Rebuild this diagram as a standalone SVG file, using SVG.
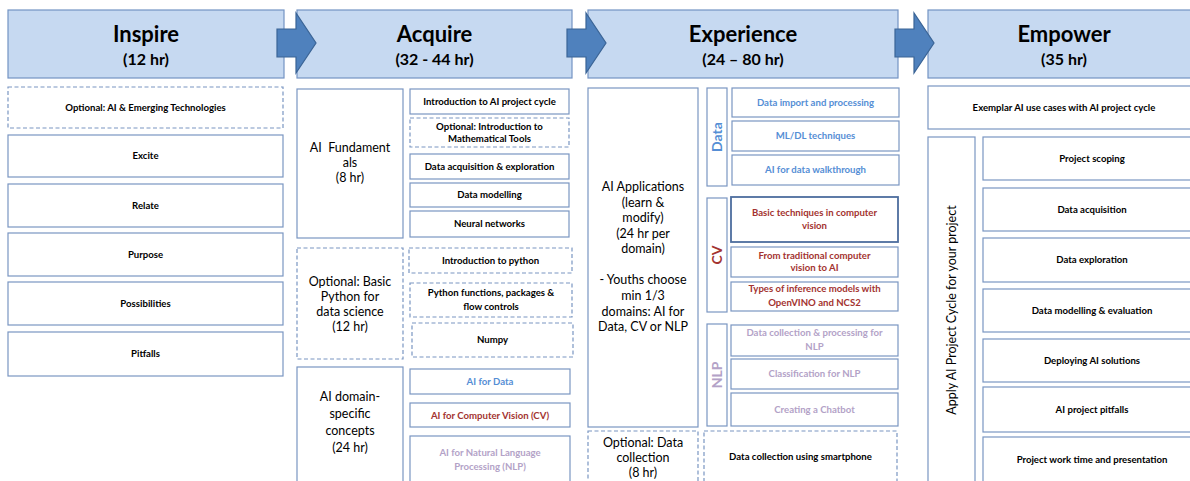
<svg xmlns="http://www.w3.org/2000/svg" width="1190" height="481" viewBox="0 0 1190 481">
<style>
.hdr{fill:#c6d9f1;stroke:#7393c4;stroke-width:1.2}
.arr{fill:#4f81bd;stroke:#3a6496;stroke-width:1.2}
.box{fill:#fff;stroke:#7a96c2;stroke-width:1.2}
.dash{fill:#fff;stroke:#7a96c2;stroke-width:1.2;stroke-dasharray:4 2.5}
.strong{fill:#fff;stroke:#4d6d9e;stroke-width:1.8}
text{font-family:Lato,"Open Sans",sans-serif;text-anchor:middle;fill:#000}
.t{font-size:9.6px;font-weight:bold}
.m{font-size:12.5px}
.h1{font-size:22px;font-weight:bold}
.h2{font-size:16px;font-weight:bold}
.blue{fill:#558ed5}
.red{fill:#a33330}
.pur{fill:#b3a2c7}
.lab{font-size:14px;font-weight:bold}
</style>

<!-- Headers -->
<g id="hdr-inspire"><rect class="hdr" x="8" y="10" width="276" height="68"/><text class="h1" x="146" y="42">Inspire</text><text class="h2" x="146" y="65">(12 hr)</text></g>
<g id="hdr-acquire"><rect class="hdr" x="297" y="10" width="275" height="68"/><text class="h1" x="434.5" y="42">Acquire</text><text class="h2" x="434.5" y="65">(32 - 44 hr)</text></g>
<g id="hdr-experience"><rect class="hdr" x="588" y="10" width="310" height="68"/><text class="h1" x="743" y="42">Experience</text><text class="h2" x="743" y="65">(24 – 80 hr)</text></g>
<g id="hdr-empower"><rect class="hdr" x="928" y="10" width="272" height="68"/><text class="h1" x="1064" y="42">Empower</text><text class="h2" x="1064" y="65">(35 hr)</text></g>

<!-- Connectors -->
<g id="connectors">
<polygon class="arr" points="277,29 296,29 296,13 316,43 296,73 296,57 277,57"/>
<polygon class="arr" points="567,29 586,29 586,13 606,43 586,73 586,57 567,57"/>
<polygon class="arr" points="895,29 914,29 914,13 934,43 914,73 914,57 895,57"/>
</g>

<!-- Inspire column -->
<g id="n-opt-emerging"><rect class="dash" x="8" y="87" width="275" height="41"/><text class="t" x="145.5" y="111">Optional: AI &amp; Emerging Technologies</text></g>
<g id="n-excite"><rect class="box" x="8" y="135" width="275" height="42"/><text class="t" x="145.5" y="159">Excite</text></g>
<g id="n-relate"><rect class="box" x="8" y="184" width="275" height="43"/><text class="t" x="145.5" y="208.5">Relate</text></g>
<g id="n-purpose"><rect class="box" x="8" y="233" width="275" height="43"/><text class="t" x="145.5" y="257.5">Purpose</text></g>
<g id="n-possibilities"><rect class="box" x="8" y="282" width="275" height="43"/><text class="t" x="145.5" y="306.5">Possibilities</text></g>
<g id="n-pitfalls"><rect class="box" x="8" y="332" width="275" height="44"/><text class="t" x="145.5" y="357">Pitfalls</text></g>

<!-- Acquire column -->
<g id="n-ai-fund"><rect class="box" x="297" y="89" width="106" height="149"/><text class="m" x="350" y="152" xml:space="preserve">AI  Fundament</text><text class="m" x="350" y="167">als</text><text class="m" x="350" y="182">(8 hr)</text></g>
<g id="n-intro-cycle"><rect class="box" x="410" y="89" width="159" height="25"/><text class="t" x="489.5" y="104.5">Introduction to AI project cycle</text></g>
<g id="n-opt-math"><rect class="dash" x="410" y="118" width="159" height="29"/><text class="t" x="489.5" y="130">Optional: Introduction to</text><text class="t" x="489.5" y="142">Mathematical Tools</text></g>
<g id="n-data-acq"><rect class="box" x="410" y="154" width="159" height="25"/><text class="t" x="489.5" y="169.5">Data acquisition &amp; exploration</text></g>
<g id="n-data-model"><rect class="box" x="410" y="183" width="159" height="24"/><text class="t" x="489.5" y="198">Data modelling</text></g>
<g id="n-neural"><rect class="box" x="410" y="211" width="159" height="26"/><text class="t" x="489.5" y="227">Neural networks</text></g>
<g id="n-opt-python"><rect class="dash" x="297" y="248" width="106" height="111"/><text class="m" x="350" y="286">Optional: Basic</text><text class="m" x="350" y="301">Python for</text><text class="m" x="350" y="316">data science</text><text class="m" x="350" y="331">(12 hr)</text></g>
<g id="n-intro-python"><rect class="dash" x="409" y="248" width="163" height="25"/><text class="t" x="490.5" y="263.5">Introduction to python</text></g>
<g id="n-py-func"><rect class="dash" x="410" y="283" width="162" height="34"/><text class="t" x="491" y="296">Python functions, packages &amp;</text><text class="t" x="491" y="310">flow controls</text></g>
<g id="n-numpy"><rect class="dash" x="412" y="323" width="161" height="34"/><text class="t" x="492.5" y="343">Numpy</text></g>
<g id="n-domain"><rect class="box" x="297" y="367" width="106" height="130"/><text class="m" x="350" y="401">AI domain-</text><text class="m" x="350" y="418">specific</text><text class="m" x="350" y="435">concepts</text><text class="m" x="350" y="452">(24 hr)</text></g>
<g id="n-ai-data"><rect class="box" x="410" y="369" width="160" height="25"/><text class="t blue" x="490" y="385">AI for Data</text></g>
<g id="n-ai-cv"><rect class="box" x="410" y="403" width="160" height="24"/><text class="t red" x="490" y="418.5">AI for Computer Vision (CV)</text></g>
<g id="n-ai-nlp"><rect class="box" x="410" y="436" width="160" height="60"/><text class="t pur" x="490" y="456">AI for Natural Language</text><text class="t pur" x="490" y="470">Processing (NLP)</text></g>

<!-- Experience column -->
<g id="n-ai-apps"><rect class="box" x="588" y="88" width="110" height="339"/>
<text class="m" x="643" y="191">AI Applications</text><text class="m" x="643" y="207">(learn &amp;</text><text class="m" x="643" y="222">modify)</text><text class="m" x="643" y="238">(24 hr per</text><text class="m" x="643" y="253">domain)</text>
<text class="m" x="643" y="284">- Youths choose</text><text class="m" x="643" y="300">min 1/3</text><text class="m" x="643" y="316">domains: AI for</text><text class="m" x="643" y="331">Data, CV or NLP</text></g>
<g id="n-lab-data"><rect class="box" x="707" y="88" width="20" height="98"/><text class="lab blue" transform="translate(722,137) rotate(-90)">Data</text></g>
<g id="n-data-import"><rect class="box" x="732" y="88" width="167" height="29"/><text class="t blue" x="815.5" y="106">Data import and processing</text></g>
<g id="n-mldl"><rect class="box" x="732" y="121" width="167" height="30"/><text class="t blue" x="815.5" y="139">ML/DL techniques</text></g>
<g id="n-walk"><rect class="box" x="732" y="155" width="167" height="30"/><text class="t blue" x="815.5" y="173">AI for data walkthrough</text></g>
<g id="n-lab-cv"><rect class="box" x="707" y="198" width="20" height="114"/><text class="lab red" transform="translate(722,255) rotate(-90)">CV</text></g>
<g id="n-cv-basic"><rect class="strong" x="731" y="197" width="167" height="45"/><text class="t red" x="814.5" y="216">Basic techniques in computer</text><text class="t red" x="814.5" y="229">vision</text></g>
<g id="n-cv-trad"><rect class="box" x="731" y="247" width="167" height="30"/><text class="t red" x="814.5" y="259">From traditional computer</text><text class="t red" x="814.5" y="271">vision to AI</text></g>
<g id="n-cv-infer"><rect class="box" x="731" y="282" width="167" height="29"/><text class="t red" x="814.5" y="292">Types of inference models with</text><text class="t red" x="814.5" y="306">OpenVINO and NCS2</text></g>
<g id="n-lab-nlp"><rect class="box" x="707" y="324" width="20" height="102"/><text class="lab pur" transform="translate(722,375) rotate(-90)">NLP</text></g>
<g id="n-nlp-collect"><rect class="box" x="731" y="325" width="167" height="31"/><text class="t pur" x="814.5" y="336">Data collection &amp; processing for</text><text class="t pur" x="814.5" y="350">NLP</text></g>
<g id="n-nlp-class"><rect class="box" x="731" y="359" width="167" height="30"/><text class="t pur" x="814.5" y="377">Classification for NLP</text></g>
<g id="n-nlp-chat"><rect class="box" x="731" y="393" width="167" height="33"/><text class="t pur" x="814.5" y="412.5">Creating a Chatbot</text></g>
<g id="n-opt-collect"><rect class="dash" x="588" y="431" width="110" height="60"/><text class="m" x="643" y="447">Optional: Data</text><text class="m" x="643" y="462">collection</text><text class="m" x="643" y="477">(8 hr)</text></g>
<g id="n-smartphone"><rect class="dash" x="704" y="431" width="193" height="60"/><text class="t" x="800.5" y="460">Data collection using smartphone</text></g>

<!-- Empower column -->
<g id="n-exemplar"><rect class="box" x="928" y="86" width="270" height="43"/><text class="t" x="1064" y="111">Exemplar AI use cases with AI project cycle</text></g>
<g id="n-apply"><rect class="box" x="928" y="137" width="47" height="360"/><text class="m" transform="translate(956,310) rotate(-90)">Apply AI Project Cycle for your project</text></g>
<g id="n-scoping"><rect class="box" x="983" y="137" width="215" height="43"/><text class="t" x="1092" y="162">Project scoping</text></g>
<g id="n-e-acq"><rect class="box" x="983" y="188" width="215" height="43"/><text class="t" x="1092" y="213">Data acquisition</text></g>
<g id="n-e-expl"><rect class="box" x="983" y="238" width="215" height="44"/><text class="t" x="1092" y="263">Data exploration</text></g>
<g id="n-e-model"><rect class="box" x="983" y="289" width="215" height="43"/><text class="t" x="1092" y="313.5">Data modelling &amp; evaluation</text></g>
<g id="n-e-deploy"><rect class="box" x="983" y="339" width="215" height="43"/><text class="t" x="1092" y="363.5">Deploying AI solutions</text></g>
<g id="n-e-pitfalls"><rect class="box" x="983" y="387" width="215" height="45"/><text class="t" x="1092" y="413">AI project pitfalls</text></g>
<g id="n-e-work"><rect class="box" x="983" y="437" width="215" height="60"/><text class="t" x="1092" y="463">Project work time and presentation</text></g>
</svg>
